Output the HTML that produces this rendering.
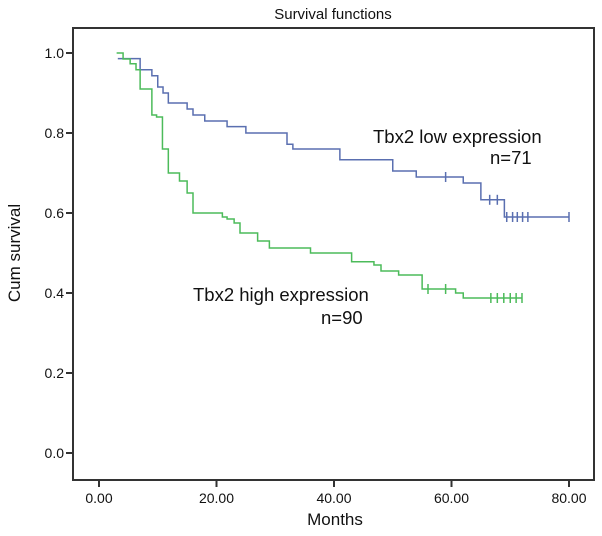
<!DOCTYPE html>
<html><head><meta charset="utf-8"><style>
body{margin:0;background:#fff;}
svg text{font-family:"Liberation Sans",Arial,sans-serif;fill:#111;}
</style></head><body>
<svg id="chart" width="602" height="531" viewBox="0 0 602 531">
<text x="333" y="19" font-size="15" text-anchor="middle">Survival functions</text>
<rect x="73" y="28" width="521" height="452" fill="none" stroke="#333" stroke-width="2"/>
<g id="axes"></g>
<g id="series"></g>
<text x="373" y="143" font-size="18.5">Tbx2 low expression</text>
<text x="490" y="164" font-size="18.5">n=71</text>
<text x="193" y="301" font-size="18.5">Tbx2 high expression</text>
<text x="321" y="324" font-size="18.5">n=90</text>
<text x="335" y="525" font-size="17" text-anchor="middle">Months</text>
<text transform="translate(20,253) rotate(-90)" font-size="17" text-anchor="middle">Cum survival</text>
</svg>
<script>
const xTicks=[0,20,40,60,80];
const xTickLabels=["0.00","20.00","40.00","60.00","80.00"];
const yTicks=[0,0.2,0.4,0.6,0.8,1.0];
const yTickLabels=["0.0","0.2","0.4","0.6","0.8","1.0"];
const lowTimes=[3.2,7,9,10,10.9,11.8,15,16,18,21.8,25,32,33,41,50,54,62,65,69];
const lowValues=[0.986,0.958,0.943,0.915,0.90,0.875,0.86,0.845,0.83,0.816,0.80,0.772,0.76,0.733,0.705,0.69,0.675,0.633,0.59];
const lowEnd=80;
const lowCensored=[59,66.5,67.8,69.4,70.4,71.2,72.1,73,80];
const highTimes=[3,4.1,5.3,6.3,7,9,9.8,10.8,11.8,13.7,15,16,21,21.8,23,24,27,29,36,43,46.8,48,51,55,60.7,62];
const highValues=[1.0,0.985,0.973,0.958,0.91,0.845,0.84,0.76,0.70,0.68,0.65,0.60,0.59,0.585,0.575,0.55,0.53,0.5125,0.50,0.478,0.47,0.455,0.445,0.41,0.40,0.3875];
const highEnd=72;
const highCensored=[56,59,66.7,67.8,68.9,70,71,72];

const X=t=>99+t*(569-99)/80;
const Y=v=>453-v*400;
const NS="http://www.w3.org/2000/svg";
function mk(tag,attrs,parent){const e=document.createElementNS(NS,tag);for(const k in attrs)e.setAttribute(k,attrs[k]);parent.appendChild(e);return e;}
const axes=document.getElementById('axes');
xTicks.forEach((t,i)=>{
  const l=mk('line',{x1:X(t),x2:X(t),y1:480,y2:487,stroke:'#333','stroke-width':2},axes);
  
  
  const tx=mk('text',{x:X(t),y:503,'font-size':14,'text-anchor':'middle'},axes);
  tx.textContent=xTickLabels[i];
  
  
});
yTicks.forEach((v,i)=>{
  const l=mk('line',{x1:66,x2:73,y1:Y(v),y2:Y(v),stroke:'#333','stroke-width':2},axes);
  
  
  const tx=mk('text',{x:64,y:Y(v)+5,'font-size':14,'text-anchor':'end'},axes);
  tx.textContent=yTickLabels[i];
  
  
});
function valAt(times,vals,t){let v=vals[0];for(let i=0;i<times.length;i++){if(times[i]<=t)v=vals[i];}return v;}
function draw(times,vals,end,cens,color,name){
  const g=document.getElementById('series');
  let d='M'+X(times[0])+','+Y(vals[0]);
  for(let i=1;i<times.length;i++){d+=' H'+X(times[i])+' V'+Y(vals[i]);}
  d+=' H'+X(end);
  const p=mk('path',{d:d,fill:'none',stroke:color,'stroke-width':1.5},g);
  
  
  cens.forEach(t=>{
    const y=Y(valAt(times,vals,t));
    const c=mk('line',{x1:X(t),x2:X(t),y1:y-5,y2:y+5,stroke:color,'stroke-width':1.5},g);
    
    
  });
}
draw(lowTimes,lowValues,lowEnd,lowCensored,'#5a6fb0','low-expression');
draw(highTimes,highValues,highEnd,highCensored,'#4cbb5a','high-expression');
</script>
</body></html>
